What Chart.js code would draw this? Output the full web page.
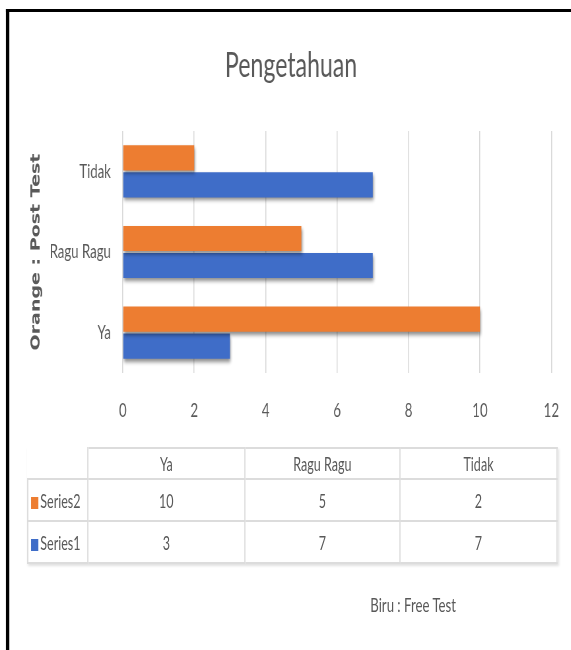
<!DOCTYPE html>
<html>
<head>
    <title>Pengetahuan</title>
    <script src="https://cdn.jsdelivr.net/npm/chart.js@4.4.1/dist/chart.umd.min.js"></script>
    <style>
        html, body { margin: 0; overflow: hidden; background: #fff; }
        body { color: #595959; font-family: Lato, "DejaVu Sans", sans-serif; }
        /* the source picture is squeezed sideways, so lay out wide and squeeze the whole sheet */
        .sheet { position: absolute; left: 0; top: 0; width: 880px; height: 650px;
                 transform: scaleX(0.66); transform-origin: 0 0; }
        .frame { position: absolute; left: 9px; top: 9px; width: 900px; height: 700px;
                 border-left: 5px solid #000; border-top: 3px solid #000; }
        .chart-box { position: absolute; left: 21px; top: 12px; }
        #dataTable { position: absolute; left: 41px; top: 447px; border-collapse: collapse;
                     font-size: 19px; box-shadow: 2px 2px 3px rgba(0,0,0,0.12); }
        #dataTable td { border: 2px solid #dcdcdc; text-align: center; padding: 0; white-space: nowrap; }
        #dataTable tr.head td { height: 29px; }
        #dataTable tr.row td { height: 40px; }
        #dataTable td.corner { border-top: none; border-left: none; }
        #dataTable td.name { text-align: left; padding-left: 4px; }
        .key { display: inline-block; width: 11px; height: 12px; margin-right: 3px; vertical-align: -1px; }
        .note { position: absolute; left: 561px; top: 592px; font-size: 20px; }
    </style>
</head>
<body>
    <div class="sheet">
        <div class="frame"></div>
        <div class="chart-box"><canvas id="myChart" width="852" height="420"></canvas></div>
        <table id="dataTable"></table>
        <div class="note">Biru : Free Test</div>
    </div>

    <script>
        // data
        const categories = ['Ya', 'Ragu Ragu', 'Tidak'];
        const series2 = [10, 5, 2];   // orange : post test
        const series1 = [3, 7, 7];    // blue : free test
        const xTicks = [0, 2, 4, 6, 8, 10, 12];

        const orange = '#ED7D31';
        const blue = '#3F6DC8';
        const grey = '#595959';

        // soft drop shadow under the bars, like the office chart
        const barShadow = {
            id: 'barShadow',
            beforeDatasetsDraw(chart) {
                const ctx = chart.ctx;
                ctx.save();
                ctx.shadowColor = 'rgba(0,0,0,0.45)';
                ctx.shadowBlur = 4;
                ctx.shadowOffsetX = 1;
                ctx.shadowOffsetY = 3;
            },
            afterDatasetsDraw(chart) {
                chart.ctx.restore();
            }
        };

        const ctx = document.getElementById('myChart');
        const myChart = new Chart(ctx, {
            type: 'bar',
            data: {
                labels: categories,
                datasets: [{
                    label: 'Series2',
                    data: series2,
                    backgroundColor: orange,
                    categoryPercentage: 0.67,
                    barPercentage: 0.93
                }, {
                    label: 'Series1',
                    data: series1,
                    backgroundColor: blue,
                    categoryPercentage: 0.67,
                    barPercentage: 0.93
                }]
            },
            options: {
                indexAxis: 'y',
                responsive: false,
                animation: false,
                layout: { padding: { left: 0, right: 12, top: 0, bottom: 0 } },
                plugins: {
                    legend: { display: false },
                    tooltip: { enabled: false },
                    title: {
                        display: true,
                        text: 'Pengetahuan',
                        color: grey,
                        font: { family: 'Lato', size: 35, weight: 'normal' },
                        padding: { top: 33, bottom: 44 }
                    }
                },
                scales: {
                    x: {
                        min: xTicks[0],
                        max: xTicks[xTicks.length - 1],
                        ticks: {
                            stepSize: xTicks[1] - xTicks[0],
                            color: grey,
                            padding: 26,
                            font: { family: 'Lato', size: 20 }
                        },
                        grid: { color: '#d9d9d9', lineWidth: 1.5, drawTicks: false },
                        border: { display: false },
                        afterFit: function (scale) { scale.height = 59; }
                    },
                    y: {
                        reverse: true,
                        ticks: {
                            color: grey,
                            padding: 10,
                            font: { family: 'Lato', size: 20 }
                        },
                        grid: { display: false },
                        border: { display: false },
                        title: {
                            display: true,
                            text: 'Orange : Post Test',
                            color: grey,
                            font: { family: 'DejaVu Sans', size: 19, weight: 'bold' },
                            padding: { top: 23, bottom: 0 }
                        },
                        afterFit: function (scale) { scale.width = 165; }
                    }
                }
            },
            plugins: [barShadow]
        });

        // data table under the chart
        function tableMaker() {
            let html = '<tr class="head"><td class="corner" style="width:90px"></td>';
            const widths = [236, 233, 236];
            for (let i = 0; i < categories.length; i++) {
                html += '<td style="width:' + widths[i] + 'px">' + categories[i] + '</td>';
            }
            html += '</tr>';
            const rows = [['Series2', orange, series2], ['Series1', blue, series1]];
            for (const r of rows) {
                html += '<tr class="row"><td class="name"><span class="key" style="background:' + r[1] + '"></span>' + r[0] + '</td>';
                for (const v of r[2]) {
                    html += '<td>' + v + '</td>';
                }
                html += '</tr>';
            }
            return html;
        }
        document.getElementById('dataTable').innerHTML = tableMaker();
    </script>
</body>
</html>
